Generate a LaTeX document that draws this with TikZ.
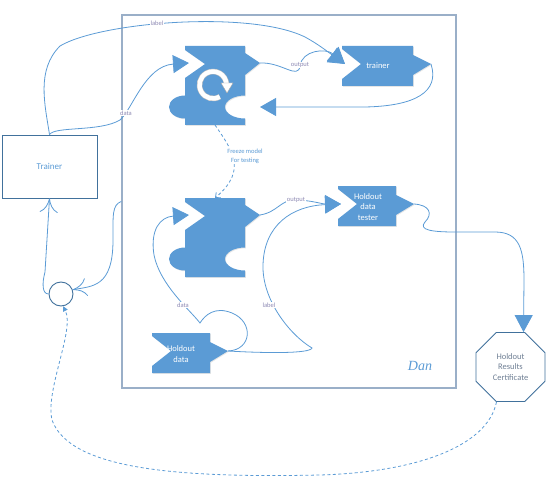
\documentclass[tikz,border=0pt]{standalone}
\usepackage{fontspec}
\setmainfont{Carlito}
\newfontfamily\danfont{Liberation Serif}
\usetikzlibrary{arrows.meta,shapes.geometric,shadows}
\definecolor{blockblue}{HTML}{5B9BD5}
\definecolor{edgeblue}{HTML}{41719C}
\definecolor{framegray}{HTML}{9AAFC8}
\definecolor{lblgray}{HTML}{8E8AB4}
\definecolor{certgray}{HTML}{6F7F94}
\begin{document}
\begin{tikzpicture}[x=1pt,y=-1pt,
    conn/.style={draw=blockblue,line width=0.8pt},
    dashline/.style={conn,dash pattern=on 3pt off 2.5pt},
    bigtip/.style={-{Triangle[length=16pt,width=18pt]}},
    barbtip/.style={-{Computer Modern Rightarrow[length=14pt,width=18pt]}},
    blockfill/.style={fill=blockblue,drop shadow={opacity=0.2,shadow xshift=0.8pt,shadow yshift=-0.8pt}},
    lbl/.style={fill=white,inner sep=0.6pt,text=lblgray,font=\fontsize{6.5}{8}\selectfont},
    blocktext/.style={text=white,align=center,font=\fontsize{8.5}{10.5}\selectfont},
    trainbox/.style={draw=edgeblue,line width=0.9pt,minimum width=95pt,minimum height=63pt,text=blockblue,font=\fontsize{9}{11}\selectfont},
    framebox/.style={draw=framegray,line width=1.5pt,minimum width=334pt,minimum height=373pt},
    sumnode/.style={circle,draw=edgeblue,line width=0.9pt,minimum size=24pt,inner sep=0pt},
    certnode/.style={regular polygon,regular polygon sides=8,minimum size=74.6pt,draw=edgeblue,line width=0.9pt,text=certgray,align=center,font=\fontsize{8.5}{10.5}\selectfont},
    puzzle/.pic={
      \path[blockfill] (0,0) -- (60,0) -- (60,7) -- (75,17) -- (60,29) -- (60,49.5)
        arc[start angle=-90,end angle=-270,x radius=20,y radius=11.5] -- (60,79) -- (0,79) -- (0,72.5)
        arc[start angle=90,end angle=270,x radius=16,y radius=11.5] -- (0,32) -- (20,18) -- (0,4) -- cycle;
      \coordinate (-in) at (4,17);
      \coordinate (-out) at (75,17);
      \coordinate (-back) at (75,61);
      \coordinate (-top) at (30,0);
      \coordinate (-bottom) at (30,79);
    },
    refresh/.pic={
      \draw[black!25,line width=5.5pt] (60:13.5) arc[start angle=60,end angle=355,radius=13.5];
      \draw[white,line width=4.5pt] (60:13.5) arc[start angle=60,end angle=355,radius=13.5];
      \filldraw[fill=white,draw=black!35,line width=0.4pt] (8,-2) -- (20,-2) -- (14,8) -- cycle;
    },
    chev/.pic={
      \path[blockfill] (0,0) -- (#1,0) -- (#1,9) -- (#1+18,18) -- (#1,29) -- (#1,40) -- (0,40) -- (0,33) -- (19,18) -- (0,3) -- cycle;
      \coordinate (-in) at (3,18);
      \coordinate (-out) at (#1+18,18);
    }]
  \useasboundingbox (0,0) rectangle (547,495);
  \node at (289,201.5) [framebox] (dan) {};
  \node at (420,366) [text=blockblue,font=\danfont\itshape\fontsize{14}{16}\selectfont] (danname) {Dan};
  \node at (49.5,166.5) [trainbox] (coach) {Trainer};
  \node at (61,294) [sumnode] (sum) {};
  \node at (510.5,367) [certnode] (cert) {Holdout\\Results\\Certificate};
  \pic (model) at (185,46) {puzzle};
  \pic (spin) at (213,85) {refresh};
  \pic (frozen) at (185,198) {puzzle};
  \pic (trainer) at (342,46) {chev=71};
  \node at (378,66) [blocktext] (trainertext) {trainer};
  \pic (tester) at (338,186) {chev=58};
  \node at (368,207) [blocktext] (testertext) {Holdout\\data\\tester};
  \pic (holdout) at (152,333) {chev=58};
  \node at (181,354) [blocktext] (holdouttext) {Holdout\\data};
  % training loop
  \draw [conn,bigtip] (model-out) .. controls (282,62) and (298,80) .. (300,66) .. controls (302,50) and (326,48) .. (trainer-in);
  \draw [conn,bigtip] (coach.north) .. controls (45,105) and (36,70) .. (60,46) .. controls (100,22) and (250,10) .. (305,37) .. controls (318,44) and (328,52) .. (trainer-in);
  \draw [conn,bigtip] (coach.north) .. controls (55,126) and (100,132) .. (120,120) .. controls (132,110) and (145,66) .. (model-in);
  \draw [conn,bigtip] (trainer-out) .. controls (440,92) and (415,106) .. (365,107) -- (model-back);
  \draw [dashline,-{Straight Barb[length=4pt,width=7pt]}] (model-bottom) .. controls (232,150) and (248,170) .. (frozen-top);
  % testing
  \draw [conn,bigtip] (frozen-out) .. controls (278,212) and (280,200) .. (295,200) .. controls (310,200) and (322,204) .. (tester-in);
  \draw [conn,bigtip] (holdout-out) .. controls (262,353) and (310,354) .. (312,348) .. controls (290,335) and (262,300) .. (263,265) .. controls (264,225) and (292,206) .. (tester-in);
  \draw [conn,bigtip] (holdout-out) .. controls (252,350) and (254,322) .. (232,313) .. controls (215,306) and (205,315) .. (200,323) .. controls (190,310) and (160,285) .. (154,255) .. controls (150,230) and (160,217) .. (frozen-in);
  \draw [conn,-{Triangle[length=17pt,width=18pt]}] (tester-out) .. controls (430,205) and (433,214) .. (425,222) .. controls (418,230) and (432,232) .. (455,232) -- (495,232) .. controls (520,232) and (524,250) .. (524,280) -- ([xshift=13pt]cert.north);
  \draw [dashline,-{Triangle[length=5pt,width=5pt]}] ([xshift=-14pt]cert.south) .. controls (488,445) and (420,472) .. (320,475) .. controls (180,478) and (70,470) .. (52,420) .. controls (45,390) and (75,330) .. (sum.-80);
  \draw [conn,barbtip] (dan.west) .. controls (112,205) and (113,215) .. (113,240) .. controls (113,288) and (92,286) .. (sum.20);
  \draw [conn,barbtip] (sum.west) .. controls (42,294) and (42,283) .. (45,272) -- (coach.south);
  % labels
  \node at (157,23) [lbl] (lab1) {label};
  \node at (126,113) [lbl] (dat1) {data};
  \node at (300,65) [lbl] (out1) {output};
  \node at (245,156) [lbl,text=blockblue,align=center,font=\fontsize{6.5}{9}\selectfont] (freeze) {Freeze model\\For testing};
  \node at (296,200) [lbl] (out2) {output};
  \node at (269,305) [lbl] (lab2) {label};
  \node at (183,305) [lbl] (dat2) {data};
\end{tikzpicture}
\end{document}
